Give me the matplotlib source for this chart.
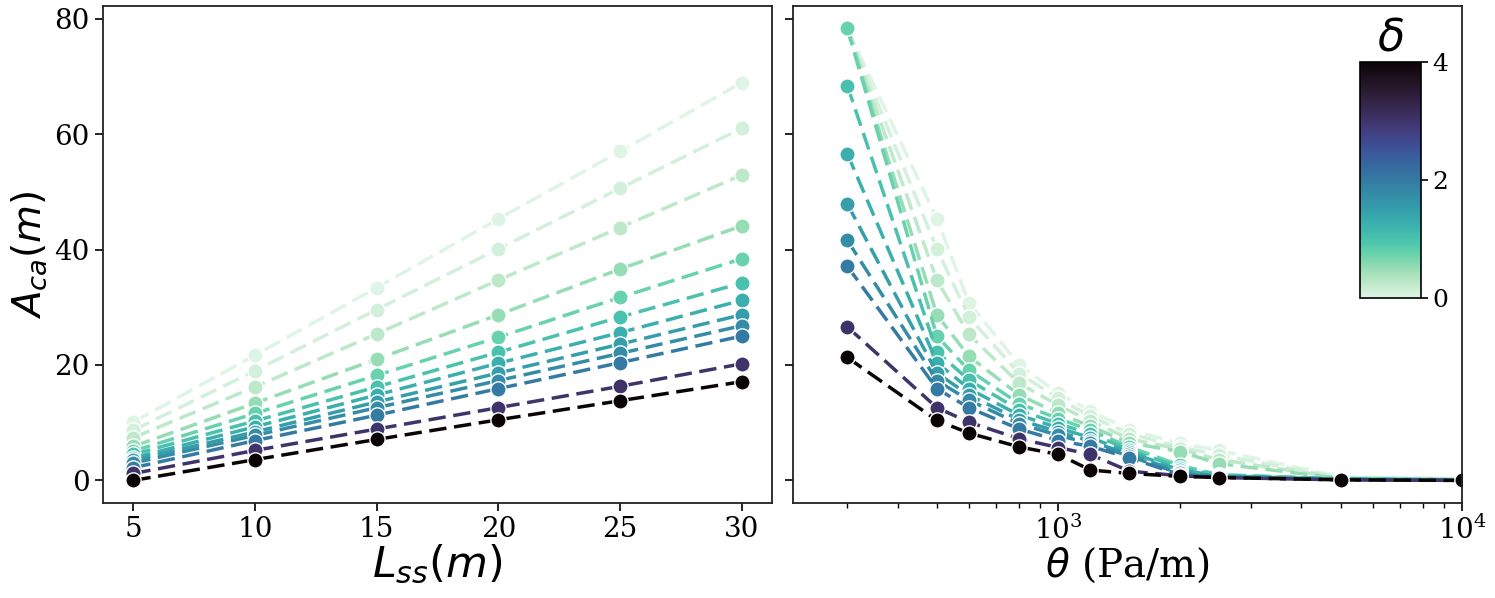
# -*- coding: utf-8 -*-
import numpy as np
import matplotlib
matplotlib.use("Agg")
import matplotlib.pyplot as plt
import seaborn as sns
from matplotlib.colors import Normalize
from matplotlib.cm import ScalarMappable

plt.rcParams['font.family'] = ['DejaVu Serif']
plt.rcParams['mathtext.fontset'] = 'dejavusans'

# delta values (hue)
deltas = [0, 0.1, 0.25, 0.5, 0.75, 1.0, 1.25, 1.5, 1.75, 2.0, 3.0, 4.0]

# left panel: A_ca vs L_ss
L_ss = [5, 10, 15, 20, 25, 30]
A_left = [
    [10.1, 21.7, 33.4, 45.3, 57.0, 68.9],
    [8.7, 19.0, 29.6, 40.1, 50.6, 61.0],
    [7.4, 16.2, 25.4, 34.7, 43.8, 52.9],
    [5.9, 13.4, 21.0, 28.7, 36.6, 44.1],
    [5.1, 11.6, 18.2, 24.8, 31.7, 38.4],
    [4.5, 10.3, 16.2, 22.2, 28.3, 34.2],
    [3.9, 9.3, 14.8, 20.3, 25.6, 31.2],
    [3.5, 8.4, 13.6, 18.6, 23.6, 28.7],
    [3.0, 7.8, 12.6, 17.3, 22.0, 26.8],
    [2.2, 6.9, 11.3, 15.9, 20.4, 25.0],
    [1.2, 5.2, 8.9, 12.6, 16.3, 20.2],
    [0.0, 3.6, 7.1, 10.5, 13.8, 17.1],
]

# right panel: A_ca vs theta
theta = [300, 500, 600, 800, 1000, 1200, 1500, 2000, 2500, 5000, 10000]
A_right = [
    [78.3, 45.3, 30.8, 20.0, 15.1, 12.0, 8.8, 6.4, 5.2, 0.6, 0.3],
    [78.3, 40.1, 28.3, 18.5, 14.2, 11.1, 8.1, 5.8, 4.4, 0.5, 0.25],
    [78.3, 34.7, 25.3, 16.8, 13.0, 10.3, 7.2, 5.4, 3.6, 0.4, 0.2],
    [78.3, 28.7, 21.5, 14.8, 11.6, 9.4, 6.5, 5.0, 2.9, 0.35, 0.15],
    [78.3, 25.0, 19.1, 13.3, 10.7, 8.7, 5.8, 2.6, 1.0, 0.3, 0.1],
    [68.4, 22.3, 17.4, 12.2, 9.8, 8.1, 5.3, 2.2, 0.9, 0.25, 0.1],
    [56.6, 20.4, 15.9, 11.3, 9.1, 7.4, 4.9, 1.8, 0.8, 0.2, 0.05],
    [47.9, 18.6, 14.8, 10.5, 8.4, 6.8, 4.5, 1.5, 0.7, 0.2, 0.05],
    [41.6, 17.3, 13.9, 9.8, 7.8, 6.4, 4.2, 1.2, 0.6, 0.15, 0.0],
    [37.1, 15.9, 12.6, 8.9, 6.9, 5.9, 3.9, 1.0, 0.6, 0.15, 0.0],
    [26.6, 12.6, 10.1, 7.2, 5.7, 4.5, 1.6, 0.8, 0.5, 0.1, 0.0],
    [21.3, 10.4, 8.2, 5.8, 4.5, 1.8, 1.2, 0.7, 0.5, 0.1, 0.0],
]

cmap = sns.color_palette("mako_r", as_cmap=True)
norm = Normalize(vmin=0, vmax=4)

fig = plt.figure(figsize=(14.95, 5.98), dpi=100)
ax1 = fig.add_axes([0.0689, 0.159, 0.4475, 0.831])
ax2 = fig.add_axes([0.5304, 0.159, 0.4476, 0.831], sharey=ax1)

line_kw = dict(ls='--', dashes=(5.0, 2.2), lw=2.5, marker='o', ms=11,
               mec='white', mew=1.0)

for d, ys in zip(deltas, A_left):
    ax1.plot(L_ss, ys, color=cmap(norm(d)), **line_kw)

for d, ys in zip(deltas, A_right):
    ax2.plot(theta, ys, color=cmap(norm(d)), **line_kw)

ax2.set_xscale('log')
ax2.set_xlim(220, 1e4)
ax1.set_ylim(-3.9, 82.2)
ax1.set_yticks([0, 20, 40, 60, 80])
ax1.set_xticks(L_ss)
plt.setp(ax2.get_yticklabels(), visible=False)

for ax in (ax1, ax2):
    ax.tick_params(axis='both', which='major', labelsize=20, length=6, width=1.2)
    ax.tick_params(axis='both', which='minor', length=3.5, width=1.0)
    for s in ax.spines.values():
        s.set_linewidth(1.3)
        s.set_color('#222222')

ax1.set_xlabel('$L_{ss}(m)$', fontsize=31, labelpad=0)
ax1.set_ylabel('$A_{ca}(m)$', fontsize=28, labelpad=4)
ax2.set_xlabel(r'$\theta$ (Pa/m)', fontsize=28, labelpad=0)

# colorbar inset
cax = ax2.inset_axes([0.848, 0.412, 0.09, 0.476])
sm = ScalarMappable(norm=norm, cmap=cmap)
cb = fig.colorbar(sm, cax=cax, ticks=[0, 2, 4])
cb.ax.tick_params(labelsize=18, length=5, width=1.2)
cb.outline.set_linewidth(1.2)
cax.set_title(r'$\delta$', fontsize=32, pad=8)

fig.savefig('out.png', dpi=100)
